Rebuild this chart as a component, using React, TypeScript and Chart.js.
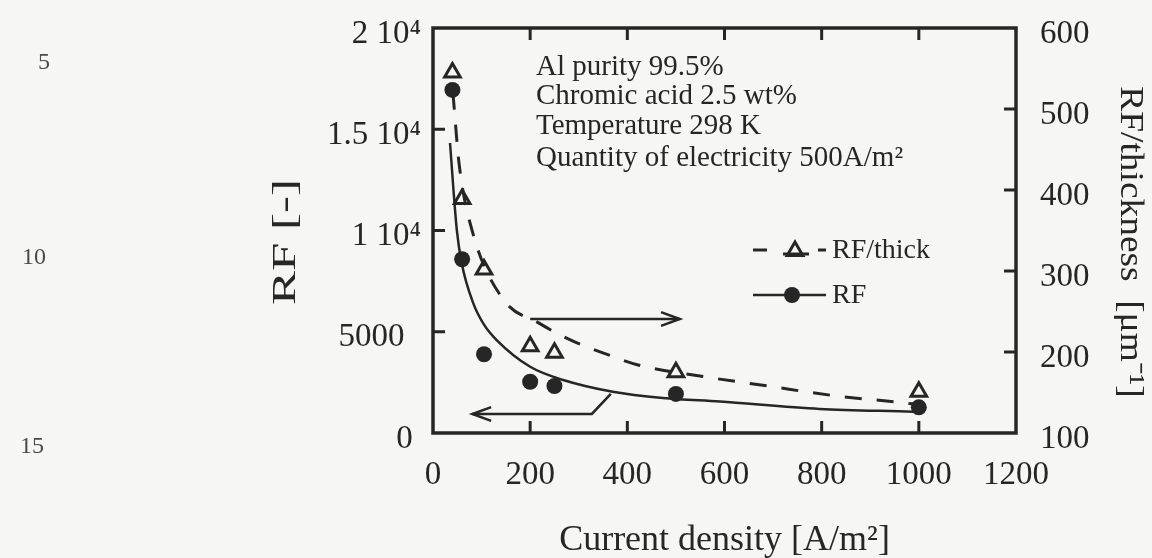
import React, { useEffect, useRef } from "react";
import { Chart, registerables } from "chart.js";

Chart.register(...registerables);

// ---------------- data ----------------
const currentDensity = [40, 60, 105, 200, 250, 500, 1000];
const rfValues = [16940, 8580, 3890, 2530, 2320, 1930, 1270];
const rfThickValues = [545, 389, 302, 207, 199, 175, 151];

// fitted curves
const rfFitX = [35, 49, 59, 83, 105, 131, 200, 268, 370, 473, 590, 796, 988, 1000];
const rfFitY = [14320, 10030, 8400, 6400, 5350, 4590, 3270, 2620, 2040, 1730, 1550, 1190, 1050, 1040];
const thickFitX = [41, 54, 80, 142, 220, 286, 354, 422, 553, 689, 827, 957, 1000];
const thickFitY = [520, 431, 351, 267, 235, 214, 198, 184, 170, 158, 146, 138, 135];

// axes
const xTicks = [0, 200, 400, 600, 800, 1000, 1200];
const leftTicks = [0, 5000, 10000, 15000, 20000];
const leftTickLabels = ["0 ", "5000  ", "1 10\u2074", "1.5 10\u2074", "2 10\u2074"];
const rightTicks = [100, 200, 300, 400, 500, 600];

// annotation arrows in data units (x, left axis)
const arrowToRight = [[200, 5630], [508, 5630]];
const arrowToLeft = [[366, 1930], [327, 940], [81, 940]];

const annotationLines = [
  "Al purity 99.5%",
  "Chromic acid 2.5 wt%",
  "Temperature 298 K",
  "Quantity of electricity 500A/m\u00b2",
];
const legendLabels = ["RF/thick", "RF"];
const xTitle = "Current density [A/m\u00b2]";
const leftTitle = "RF [-]";
const rightTitle = "RF/thickness  [\u03bcm\u207b\u00b9]";
const lineNumbers = ["5", "10", "15"];

// ---------------- style ----------------
const BG = "#f6f6f4";
const INK = "#262626";
const SERIF = "'Liberation Serif', 'Times New Roman', serif";

function drawArrow(ctx: CanvasRenderingContext2D, pts: number[][]) {
  ctx.beginPath();
  ctx.moveTo(pts[0][0], pts[0][1]);
  for (let i = 1; i < pts.length; i++) ctx.lineTo(pts[i][0], pts[i][1]);
  ctx.stroke();
  const [x1, y1] = pts[pts.length - 2];
  const [x2, y2] = pts[pts.length - 1];
  const ang = Math.atan2(y2 - y1, x2 - x1);
  const len = 20, half = 0.35;
  ctx.beginPath();
  ctx.moveTo(x2 - len * Math.cos(ang - half), y2 - len * Math.sin(ang - half));
  ctx.lineTo(x2, y2);
  ctx.lineTo(x2 - len * Math.cos(ang + half), y2 - len * Math.sin(ang + half));
  ctx.stroke();
}

function drawRotated(ctx: CanvasRenderingContext2D, text: string, cx: number, cy: number,
  angle: number, stretch: number) {
  ctx.save();
  ctx.translate(cx, cy);
  ctx.rotate(angle);
  ctx.scale(stretch, 1);
  ctx.fillText(text, 0, 0);
  ctx.restore();
}

const decorPlugin = {
  id: "decor",
  beforeDraw(chart: any) {
    const ctx = chart.ctx;
    ctx.save();
    ctx.fillStyle = BG;
    ctx.fillRect(0, 0, chart.width, chart.height);
    ctx.restore();
  },
  beforeDatasetsDraw(chart: any) {
    const ctx: CanvasRenderingContext2D = chart.ctx;
    const { left, right, top, bottom } = chart.chartArea;
    const sx = chart.scales.x, sl = chart.scales.yL, sr = chart.scales.yR;
    ctx.save();
    ctx.strokeStyle = INK;
    ctx.lineCap = "butt";
    // inward ticks
    ctx.lineWidth = 3;
    const tl = 12;
    ctx.beginPath();
    xTicks.slice(1, -1).forEach((v) => {
      const p = sx.getPixelForValue(v);
      ctx.moveTo(p, bottom); ctx.lineTo(p, bottom - tl);
      ctx.moveTo(p, top); ctx.lineTo(p, top + tl);
    });
    leftTicks.slice(1, -1).forEach((v) => {
      const p = sl.getPixelForValue(v);
      ctx.moveTo(left, p); ctx.lineTo(left + tl, p);
    });
    rightTicks.slice(1, -1).forEach((v) => {
      const p = sr.getPixelForValue(v);
      ctx.moveTo(right, p); ctx.lineTo(right - tl, p);
    });
    ctx.stroke();
    // frame
    ctx.lineWidth = 3.5;
    ctx.strokeRect(left, top, right - left, bottom - top);
    // arrows
    ctx.lineWidth = 2.5;
    ctx.lineJoin = "miter";
    const toPx = (a: number[][]) => a.map(([x, y]) => [sx.getPixelForValue(x), sl.getPixelForValue(y)]);
    drawArrow(ctx, toPx(arrowToRight));
    drawArrow(ctx, toPx(arrowToLeft));
    ctx.restore();
  },
  afterDraw(chart: any) {
    const ctx: CanvasRenderingContext2D = chart.ctx;
    const { left, right } = chart.chartArea;
    ctx.save();
    ctx.fillStyle = INK;
    ctx.strokeStyle = INK;
    // annotation block
    ctx.font = `29px ${SERIF}`;
    ctx.textAlign = "left";
    ctx.textBaseline = "alphabetic";
    const baselines = [75, 104, 134, 166];
    annotationLines.forEach((t, i) => ctx.fillText(t, 536, baselines[i]));

    // legend
    const rowY = [250, 295];
    ctx.lineWidth = 3;
    ctx.beginPath();
    ctx.moveTo(753, rowY[0]); ctx.lineTo(767, rowY[0]);
    ctx.moveTo(783, rowY[0] + 4); ctx.lineTo(809, rowY[0] + 4);
    ctx.moveTo(818, rowY[0]); ctx.lineTo(826, rowY[0]);
    ctx.stroke();
    const r = 9, tx = 795, ty = rowY[0] + 1;
    ctx.beginPath();
    ctx.moveTo(tx, ty - r);
    ctx.lineTo(tx + r * Math.sin((2 * Math.PI) / 3), ty - r * Math.cos((2 * Math.PI) / 3));
    ctx.lineTo(tx + r * Math.sin((4 * Math.PI) / 3), ty - r * Math.cos((4 * Math.PI) / 3));
    ctx.closePath();
    ctx.stroke();
    ctx.lineWidth = 2.5;
    ctx.beginPath();
    ctx.moveTo(753, rowY[1]); ctx.lineTo(826, rowY[1]);
    ctx.stroke();
    ctx.beginPath();
    ctx.arc(792, rowY[1], 8, 0, Math.PI * 2);
    ctx.fill();
    ctx.font = `28px ${SERIF}`;
    ctx.textBaseline = "middle";
    ctx.fillText(legendLabels[0], 832, rowY[0] + 1);
    ctx.fillText(legendLabels[1], 832, rowY[1] + 1);

    // axis titles
    ctx.font = `36px ${SERIF}`;
    ctx.textAlign = "center";
    ctx.textBaseline = "alphabetic";
    ctx.fillText(xTitle, (left + right) / 2, 550);

    ctx.textBaseline = "middle";
    ctx.font = `34px ${SERIF}`;
    drawRotated(ctx, leftTitle, 286, 242, -Math.PI / 2, 1.5);
    drawRotated(ctx, rightTitle, 1130, 242, Math.PI / 2, 1.1);

    // page line numbers
    ctx.fillStyle = "#4a4a4a";
    ctx.font = `24px ${SERIF}`;
    const lnPos = [[44, 63], [34, 258], [32, 447]];
    lineNumbers.forEach((t, i) => ctx.fillText(t, lnPos[i][0], lnPos[i][1]));
    ctx.restore();
  },
};

export default function App() {
  const ref = useRef<HTMLCanvasElement | null>(null);

  useEffect(() => {
    document.body.style.margin = "0";
    document.body.style.background = BG;
    const canvas = ref.current!;
    const tickFont = { family: SERIF, size: 33 };
    const noPad = (s: any) => {
      s.paddingTop = 0; s.paddingBottom = 0; s.paddingLeft = 0; s.paddingRight = 0;
    };
    const chart = new Chart(canvas, {
      type: "scatter",
      data: {
        datasets: [
          {
            label: "RF fit",
            data: rfFitX.map((x, i) => ({ x, y: rfFitY[i] })),
            yAxisID: "yL",
            showLine: true,
            borderColor: INK,
            borderWidth: 2.5,
            pointRadius: 0,
            cubicInterpolationMode: "monotone",
          },
          {
            label: "RF/thick fit",
            data: thickFitX.map((x, i) => ({ x, y: thickFitY[i] })),
            yAxisID: "yR",
            showLine: true,
            borderColor: INK,
            borderWidth: 3,
            borderDash: [17, 15],
            pointRadius: 0,
            cubicInterpolationMode: "monotone",
          },
          {
            label: "RF",
            data: currentDensity.map((x, i) => ({ x, y: rfValues[i] })),
            yAxisID: "yL",
            showLine: false,
            pointStyle: "circle",
            pointRadius: 8,
            pointBackgroundColor: INK,
            pointBorderWidth: 0,
          },
          {
            label: "RF/thick",
            data: currentDensity.map((x, i) => ({ x, y: rfThickValues[i] })),
            yAxisID: "yR",
            showLine: false,
            pointStyle: "triangle",
            pointRadius: 9,
            pointBackgroundColor: BG,
            pointBorderColor: INK,
            pointBorderWidth: 3,
          },
        ],
      } as any,
      options: {
        responsive: false,
        animation: false,
        devicePixelRatio: 1,
        events: [],
        layout: { padding: { top: 28, left: 0, right: 0, bottom: 0 } },
        plugins: { legend: { display: false }, tooltip: { enabled: false } },
        scales: {
          x: {
            type: "linear",
            min: 0,
            max: 1200,
            grid: { display: false, drawTicks: false },
            border: { display: false },
            afterBuildTicks: (s: any) => { s.ticks = xTicks.map((v) => ({ value: v })); },
            afterFit: (s: any) => { s.height = 125; noPad(s); },
            ticks: { font: tickFont, color: INK, padding: 23, autoSkip: false, maxRotation: 0,
              callback: (v: any) => String(v) },
          },
          yL: {
            type: "linear",
            position: "left",
            min: 0,
            max: 20000,
            grid: { display: false, drawTicks: false },
            border: { display: false },
            afterBuildTicks: (s: any) => { s.ticks = leftTicks.map((v) => ({ value: v })); },
            afterFit: (s: any) => { s.width = 433; noPad(s); },
            ticks: { font: tickFont, color: INK, padding: 12, labelOffset: 6, autoSkip: false,
              callback: (v: any) => leftTickLabels[leftTicks.indexOf(Number(v))] ?? "" },
          },
          yR: {
            type: "linear",
            position: "right",
            min: 100,
            max: 600,
            grid: { display: false, drawTicks: false },
            border: { display: false },
            afterBuildTicks: (s: any) => { s.ticks = rightTicks.map((v) => ({ value: v })); },
            afterFit: (s: any) => { s.width = 136; noPad(s); },
            ticks: { font: tickFont, color: INK, padding: 24, labelOffset: 6, autoSkip: false,
              callback: (v: any) => String(v) },
          },
        },
      } as any,
      plugins: [decorPlugin as any],
    });
    return () => chart.destroy();
  }, []);

  return (
    <canvas ref={ref} width={1152} height={558} style={{ display: "block", width: 1152, height: 558 }} />
  );
}
